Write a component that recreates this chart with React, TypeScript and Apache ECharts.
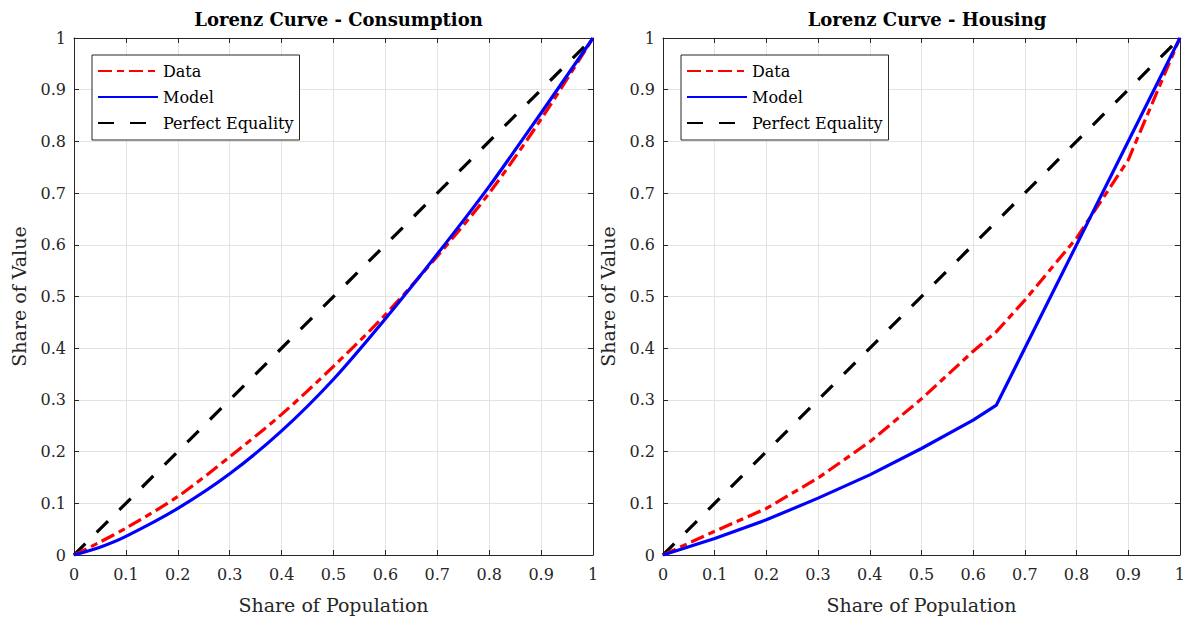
import React, { useEffect, useRef } from "react";
import * as echarts from "echarts";

// ---- Data ----
const consumptionDataX = [0, 0.05, 0.1, 0.2, 0.3, 0.4, 0.5, 0.6, 0.7, 0.8, 0.9, 1];
const consumptionDataY = [0, 0.025, 0.052, 0.113, 0.19, 0.272, 0.365, 0.465, 0.578, 0.7, 0.843, 1];
const consumptionModelX = [0, 0.05, 0.1, 0.2, 0.3, 0.4, 0.5, 0.6, 0.7, 0.8, 0.9, 1];
const consumptionModelY = [0, 0.015, 0.036, 0.09, 0.157, 0.24, 0.34, 0.457, 0.582, 0.713, 0.855, 1];

const housingDataX = [0, 0.1, 0.2, 0.3, 0.4, 0.5, 0.6, 0.645, 0.7, 0.8, 0.9, 1];
const housingDataY = [0, 0.046, 0.09, 0.149, 0.219, 0.302, 0.394, 0.432, 0.493, 0.613, 0.764, 1];
const housingModelX = [0, 0.1, 0.2, 0.3, 0.4, 0.5, 0.6, 0.645, 1];
const housingModelY = [0, 0.032, 0.068, 0.11, 0.155, 0.206, 0.261, 0.29, 1];

const equalityX = [0, 1];
const equalityY = [0, 1];

const titles = ["Lorenz Curve - Consumption", "Lorenz Curve - Housing"];
const seriesNames = ["Data", "Model", "Perfect Equality"];
const xAxisName = "Share of Population";
const yAxisName = "Share of Value";

const pair = (xs: number[], ys: number[]) => xs.map((x, i) => [x, ys[i]]);

const FONT = "DejaVu Serif";
const TEXT = "#262626";
const LW = 3.2;

export default function App() {
  const ref = useRef<HTMLDivElement>(null);
  useEffect(() => {
    if (!ref.current) return;
    const chart = echarts.init(ref.current, null, { renderer: "svg" });

    const grids = [
      { left: 74, top: 38, width: 519, height: 517 },
      { left: 663, top: 38, width: 518, height: 517 },
    ];

    const fmt = (v: number) => String(Math.round(v * 10) / 10);
    const xAxes: any[] = [];
    const yAxes: any[] = [];
    grids.forEach((_, g) => {
      xAxes.push({
        type: "value",
        gridIndex: g,
        min: 0,
        max: 1,
        interval: 0.1,
        position: "bottom",
        name: xAxisName,
        nameLocation: "middle",
        nameGap: 40,
        nameTextStyle: { fontFamily: FONT, fontSize: 19, color: TEXT },
        axisLine: { show: true, onZero: false, lineStyle: { color: TEXT, width: 1 } },
        axisTick: { show: true, inside: true, length: 5, lineStyle: { color: TEXT } },
        axisLabel: { fontFamily: FONT, fontSize: 16, color: TEXT, margin: 11, formatter: fmt },
        splitLine: { show: true, lineStyle: { color: "#e3e3e3", width: 1 } },
      });
      xAxes.push({
        type: "value",
        gridIndex: g,
        min: 0,
        max: 1,
        interval: 0.1,
        position: "top",
        axisLine: { show: true, onZero: false, lineStyle: { color: TEXT, width: 1 } },
        axisTick: { show: true, inside: true, length: 5, lineStyle: { color: TEXT } },
        axisLabel: { show: false },
        splitLine: { show: false },
      });
      yAxes.push({
        type: "value",
        gridIndex: g,
        min: 0,
        max: 1,
        interval: 0.1,
        position: "left",
        name: yAxisName,
        nameLocation: "middle",
        nameGap: 46,
        nameTextStyle: { fontFamily: FONT, fontSize: 19, color: TEXT },
        axisLine: { show: true, onZero: false, lineStyle: { color: TEXT, width: 1 } },
        axisTick: { show: true, inside: true, length: 5, lineStyle: { color: TEXT } },
        axisLabel: { fontFamily: FONT, fontSize: 16, color: TEXT, margin: 8, formatter: fmt },
        splitLine: { show: true, lineStyle: { color: "#e3e3e3", width: 1 } },
      });
      yAxes.push({
        type: "value",
        gridIndex: g,
        min: 0,
        max: 1,
        interval: 0.1,
        position: "right",
        axisLine: { show: true, onZero: false, lineStyle: { color: TEXT, width: 1 } },
        axisTick: { show: true, inside: true, length: 5, lineStyle: { color: TEXT } },
        axisLabel: { show: false },
        splitLine: { show: false },
      });
    });

    const panels = [
      {
        data: pair(consumptionDataX, consumptionDataY),
        model: pair(consumptionModelX, consumptionModelY),
        smoothData: 0.3,
        smoothModel: 0.3,
      },
      {
        data: pair(housingDataX, housingDataY),
        model: pair(housingModelX, housingModelY),
        smoothData: false,
        smoothModel: false,
      },
    ];

    const series: any[] = [];
    panels.forEach((p, g) => {
      const xi = g * 2;
      const yi = g * 2;
      series.push({
        name: seriesNames[0],
        type: "line",
        xAxisIndex: xi,
        yAxisIndex: yi,
        data: p.data,
        showSymbol: false,
        symbol: "none",
        smooth: p.smoothData,
        z: 3,
        lineStyle: { color: "#ff0000", width: LW, type: [14, 5, 7, 5] },
        itemStyle: { color: "#ff0000" },
      });
      series.push({
        name: seriesNames[1],
        type: "line",
        xAxisIndex: xi,
        yAxisIndex: yi,
        data: p.model,
        showSymbol: false,
        symbol: "none",
        smooth: p.smoothModel,
        z: 4,
        lineStyle: { color: "#0000ff", width: LW, type: "solid" },
        itemStyle: { color: "#0000ff" },
      });
      series.push({
        name: seriesNames[2],
        type: "line",
        xAxisIndex: xi,
        yAxisIndex: yi,
        data: pair(equalityX, equalityY),
        showSymbol: false,
        symbol: "none",
        z: 2,
        lineStyle: { color: "#000000", width: LW, type: [16, 16] },
        itemStyle: { color: "#000000" },
      });
    });

    const legends = grids.map((gr) => ({
      orient: "vertical",
      left: gr.left + 18,
      top: 55,
      data: seriesNames,
      backgroundColor: "#ffffff",
      borderColor: TEXT,
      borderWidth: 1,
      borderRadius: 0,
      padding: [8, 6, 9, 5],
      itemGap: 10,
      itemWidth: 60,
      itemHeight: 16,
      selectedMode: false,
      itemStyle: { color: "rgba(0,0,0,0)", borderColor: "rgba(0,0,0,0)", borderWidth: 0, opacity: 0 },
      textStyle: { fontFamily: FONT, fontSize: 16, color: "#000000" },
    }));

    chart.setOption({
      animation: false,
      backgroundColor: "#ffffff",
      title: titles.map((t, g) => ({
        text: t,
        left: grids[g].left + grids[g].width / 2,
        top: 5,
        textAlign: "center",
        textStyle: { fontFamily: FONT, fontSize: 18, fontWeight: "bold", color: "#000000" },
      })),
      grid: grids,
      xAxis: xAxes,
      yAxis: yAxes,
      legend: legends,
      series,
    });

    return () => chart.dispose();
  }, []);

  return (
    <div
      ref={ref}
      style={{ position: "fixed", left: 0, top: 0, width: 1188, height: 620, background: "#fff" }}
    />
  );
}
